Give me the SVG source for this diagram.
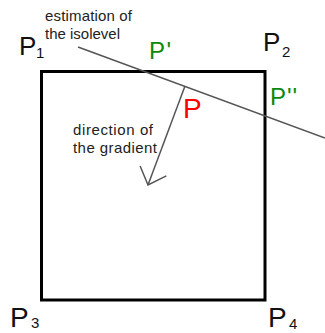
<svg xmlns="http://www.w3.org/2000/svg" width="325" height="333" viewBox="0 0 325 333">
<style>
.big{font-family:"Liberation Sans",Arial,sans-serif;font-size:26px;fill:#111}
.big2{font-family:"Liberation Sans",Arial,sans-serif;font-size:28px;fill:#111}
.sub{font-family:"Liberation Sans",Arial,sans-serif;font-size:15px;fill:#111}
.note{font-family:"Liberation Sans",Arial,sans-serif;font-size:15px;fill:#222}
.green{font-family:"Liberation Sans",Arial,sans-serif;font-size:24px;fill:#0a8a0a}
.red{font-family:"Liberation Sans",Arial,sans-serif;font-size:28px;fill:#ff0000}
.conn{stroke:#555;stroke-width:1.5;fill:none}
</style>
<defs>
<marker id="vhead" markerUnits="userSpaceOnUse" markerWidth="40" markerHeight="40" refX="0" refY="0" orient="auto" overflow="visible">
<path d="M -15 -14 L 0 0 L -15 14" fill="none" stroke="#555" stroke-width="1.5"/>
</marker>
</defs>
<rect width="325" height="333" fill="#fff"/>
<g id="cell">
<rect x="41.5" y="71.5" width="223.5" height="228.5" fill="none" stroke="#000" stroke-width="3"/>
</g>
<g id="connectors">
<line id="isolevel" class="conn" x1="78" y1="47" x2="325" y2="138"/>
<line id="gradient" class="conn" x1="185" y1="86" x2="148" y2="185" marker-end="url(#vhead)"/>
</g>
<g id="P1"><text class="big" x="19" y="55">P</text><text class="sub" x="36" y="58">1</text></g>
<g id="P2"><text class="big" x="263" y="51">P</text><text class="sub" x="282" y="57">2</text></g>
<g id="P3"><text class="big2" x="10" y="327">P</text><text class="sub" x="31" y="328">3</text></g>
<g id="P4"><text class="big2" x="268" y="327">P</text><text class="sub" x="289" y="329">4</text></g>
<g id="Pprime"><text class="green" x="149" y="59" letter-spacing="1.5">P'</text></g>
<g id="Pdprime"><text class="green" x="270" y="105" letter-spacing="1">P''</text></g>
<g id="P"><text class="red" x="183" y="118">P</text></g>
<g id="isolevel-label"><text class="note" x="45" y="21" textLength="87" lengthAdjust="spacing">estimation of</text><text class="note" x="45" y="39">the isolevel</text></g>
<g id="gradient-label"><text class="note" x="73" y="135" textLength="80" lengthAdjust="spacing">direction of</text><text class="note" x="73" y="153" textLength="84" lengthAdjust="spacing">the gradient</text></g>
</svg>
